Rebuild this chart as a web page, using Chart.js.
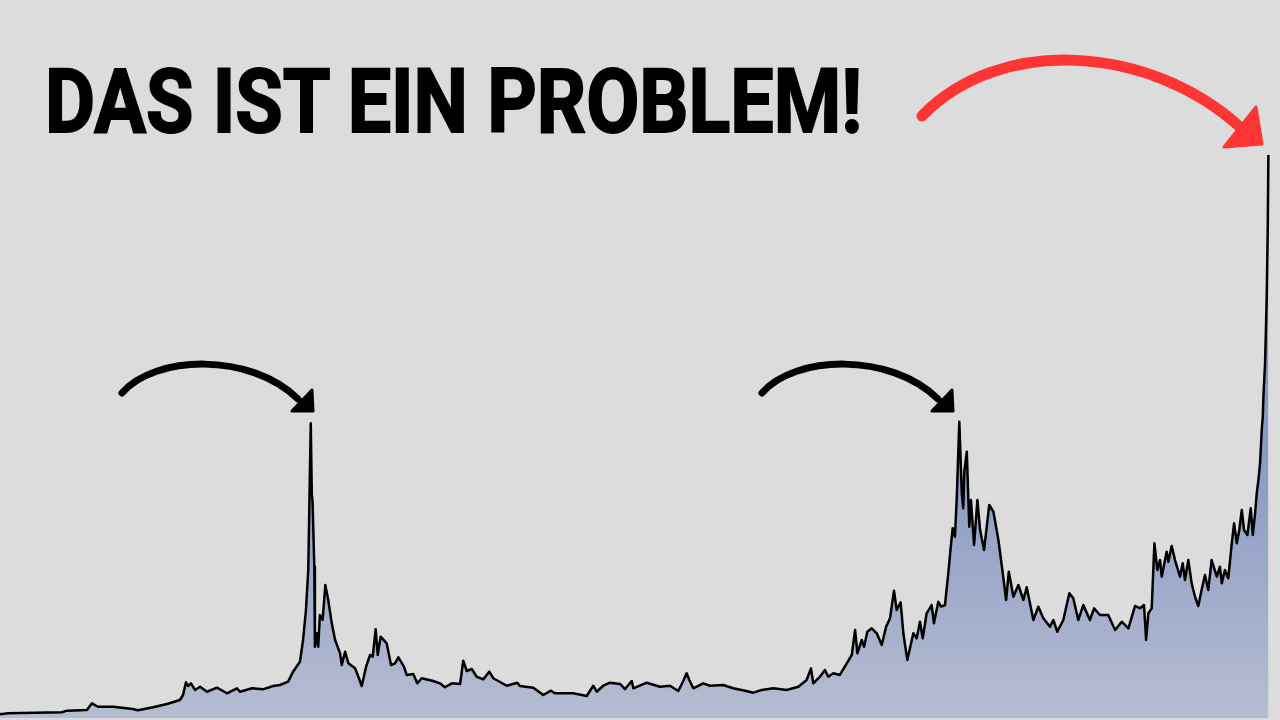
<!DOCTYPE html>
<html>
<head>
<meta charset="utf-8">
<script src="https://cdn.jsdelivr.net/npm/chart.js@4.4.1/dist/chart.umd.min.js"></script>
<style>
  html, body { margin: 0; padding: 0; background: #dcdcdc; overflow: hidden; }
  #wrap { position: relative; width: 1280px; height: 720px; }
  #c { position: absolute; left: 0; top: 0; }
  #title {
    position: absolute; left: 45px; top: 57px;
    font-family: Roboto, "Liberation Sans", sans-serif; font-weight: 700;
    font-size: 89px; line-height: 89px; color: #000; white-space: nowrap;
    -webkit-text-stroke: 2px #000; transform-origin: 0 0;
  }
</style>
</head>
<body>
<div id="wrap">
  <canvas id="c" width="1280" height="720"></canvas>
  <div id="title">DAS IST EIN PROBLEM!</div>
</div>
<script>
// Decimal year of each sample
const years = [
  1965.00,1965.38,1967.98,1968.22,1969.18,1969.42,1969.71,1970.43,1971.39,1971.63,
  1972.36,1973.03,1973.65,1973.80,1973.94,1974.04,1974.18,1974.38,1974.62,1974.95,
  1975.43,1975.91,1976.39,1976.54,1977.12,1977.64,1978.13,1978.46,1978.85,1979.09,
  1979.42,1979.57,1979.71,1979.82,1979.94,1979.99,1980.03,1980.11,1980.14,1980.25,
  1980.30,1980.38,1980.51,1980.64,1980.78,1980.95,1981.11,1981.35,1981.43,1981.59,
  1981.75,1982.07,1982.23,1982.39,1982.60,1982.79,1982.92,1983.06,1983.16,1983.30,
  1983.59,1983.80,1983.99,1984.15,1984.42,1984.55,1984.87,1985.06,1985.27,1985.83,
  1986.15,1986.39,1986.72,1987.12,1987.27,1987.44,1987.68,1987.92,1988.24,1988.52,
  1988.72,1989.36,1989.87,1990.00,1990.64,1991.12,1991.49,1991.68,1992.56,1993.21,
  1993.52,1993.69,1994.00,1994.33,1994.81,1995.05,1995.37,1995.45,1996.09,1996.73,
  1997.21,1997.61,1997.85,1998.01,1998.14,1998.33,1998.81,1999.13,1999.77,2000.25,
  2000.82,2001.22,2001.62,2002.18,2002.82,2003.38,2003.78,2003.99,2004.10,2004.42,
  2004.66,2004.82,2005.06,2005.38,2005.71,2005.95,2006.11,2006.22,2006.43,2006.54,
  2006.70,2006.91,2007.15,2007.39,2007.60,2007.79,2007.98,2008.11,2008.30,2008.43,
  2008.62,2008.91,2009.07,2009.23,2009.36,2009.55,2009.79,2009.90,2010.11,2010.24,
  2010.43,2010.59,2010.71,2010.80,2010.91,2011.00,2011.12,2011.24,2011.31,2011.36,
  2011.48,2011.60,2011.68,2011.83,2011.99,2012.12,2012.31,2012.56,2012.76,2013.00,
  2013.21,2013.37,2013.50,2013.72,2013.96,2014.20,2014.36,2014.68,2014.92,2015.16,
  2015.48,2015.64,2015.83,2016.12,2016.41,2016.60,2016.84,2017.08,2017.40,2017.60,
  2017.88,2018.28,2018.61,2018.93,2019.25,2019.57,2019.81,2020.00,2020.10,2020.21,
  2020.37,2020.50,2020.64,2020.77,2020.85,2021.09,2021.17,2021.33,2021.49,2021.73,
  2021.86,2021.97,2022.13,2022.29,2022.45,2022.61,2022.77,2022.93,2023.09,2023.25,
  2023.50,2023.65,2023.74,2023.89,2024.05,2024.22,2024.33,2024.46,2024.58,2024.70,
  2024.81,2024.97,2025.13,2025.23,2025.34,2025.42,2025.50,2025.58,2025.66,2025.71,
  2025.74,2025.82,2025.90,2025.95,2025.98
];
// Price (USD) of each sample
const prices = [
  0.62,0.78,0.95,1.22,1.33,2.45,1.88,1.88,1.50,1.28,
  1.78,2.33,3.00,3.83,5.95,5.33,5.78,4.67,5.22,4.38,
  5.05,4.12,4.95,4.38,4.95,4.78,5.33,5.50,6.05,7.72,
  9.38,13.0,18.0,24.67,49.12,37.45,35.83,25.22,11.88,14.12,
  11.88,17.17,16.33,22.17,19.67,15.78,13.0,10.78,8.83,11.05,
  9.12,8.28,6.88,5.33,8.55,10.5,10.22,14.78,10.5,13.55,
  12.45,8.83,9.12,10.12,8.55,7.17,7.33,5.78,6.62,6.17,
  5.78,5.12,5.78,5.67,9.55,7.83,8.17,6.88,6.45,7.72,
  6.62,5.38,5.88,5.33,5.05,3.83,4.55,4.12,4.12,3.67,
  5.38,4.38,5.38,5.88,5.67,4.83,6.17,4.95,5.88,5.22,
  5.38,4.50,6.17,7.45,6.33,4.95,5.78,5.38,5.50,4.95,
  4.55,4.22,4.67,4.95,4.67,5.22,6.33,8.28,5.78,6.88,
  8.00,6.88,7.45,7.17,9.12,10.5,14.67,10.78,13.0,11.88,
  14.38,14.95,14.12,12.17,15.22,16.62,21.22,18.0,19.28,14.12,
  9.67,14.12,13.28,16.05,13.28,17.45,18.83,15.78,19.38,18.55,
  18.83,24.12,28.55,31.62,30.22,36.88,49.38,37.45,34.95,41.05,
  44.38,31.88,36.33,28.83,36.33,31.33,28.0,35.5,34.38,29.67,
  24.12,19.67,24.38,20.22,22.17,19.67,21.78,16.33,18.55,16.62,
  15.22,16.33,14.38,16.33,20.78,19.95,16.33,18.83,16.33,18.28,
  17.17,17.17,14.67,16.05,14.95,18.67,18.28,18.83,13.0,17.45,
  18.28,29.12,24.67,26.33,23.55,27.72,26.05,28.67,26.33,23.55,
  25.78,23.0,26.33,22.45,20.22,18.67,21.33,23.83,21.33,26.33,
  23.55,25.22,22.45,24.67,23.28,29.12,32.45,29.12,31.33,34.67,
  31.33,30.5,34.95,30.5,34.12,37.45,39.67,42.45,48.0,50.22,
  53.55,59.12,70.22,81.88,93.83
];

const points = years.map((x, i) => ({ x: x, y: prices[i] }));

const arrows = {
  id: 'arrows',
  afterDraw(chart) {
    const ctx = chart.ctx;
    function arrow(p0, p1, p2, p3, head, color, width) {
      ctx.save();
      ctx.strokeStyle = color; ctx.fillStyle = color;
      ctx.lineWidth = width; ctx.lineCap = 'round'; ctx.lineJoin = 'round';
      ctx.beginPath();
      ctx.moveTo(p0[0], p0[1]);
      ctx.bezierCurveTo(p1[0], p1[1], p2[0], p2[1], p3[0], p3[1]);
      ctx.stroke();
      ctx.beginPath();
      ctx.moveTo(head[0][0], head[0][1]);
      ctx.lineTo(head[1][0], head[1][1]);
      ctx.lineTo(head[2][0], head[2][1]);
      ctx.closePath();
      ctx.lineWidth = 3;
      ctx.fill(); ctx.stroke();
      ctx.restore();
    }
    arrow([922,116],[1000,35],[1150,45],[1240,127],
          [[1256,107],[1262,144],[1224,147]], '#fe3535', 11);
    arrow([122,393],[155,355],[250,352],[298,399],
          [[312,390],[313,411],[292,411]], '#000000', 7);
    arrow([762,393],[795,355],[890,352],[938,399],
          [[952,390],[953,411],[932,411]], '#000000', 7);
  }
};

const ctx = document.getElementById('c').getContext('2d');
new Chart(ctx, {
  type: 'line',
  data: {
    datasets: [{
      data: points,
      borderColor: '#000000',
      borderWidth: 2.5,
      borderJoinStyle: 'round',
      pointRadius: 0,
      tension: 0,
      fill: 'origin',
      backgroundColor: (context) => {
        const ca = context.chart.chartArea;
        if (!ca) return '#a8b1cb';
        const g = context.chart.ctx.createLinearGradient(0, 150, 0, 718);
        g.addColorStop(0, '#7a8bc0');
        g.addColorStop(0.58, '#8e9cc6');
        g.addColorStop(1, '#b6bdd0');
        return g;
      }
    }]
  },
  options: {
    responsive: false,
    animation: false,
    layout: { padding: 0 },
    plugins: { legend: { display: false }, tooltip: { enabled: false } },
    scales: {
      x: { type: 'linear', min: 1965, max: 2026.538, display: false },
      y: { min: -0.333, max: 119.667, display: false }
    }
  },
  plugins: [arrows]
});

const t = document.getElementById('title');
const w = t.getBoundingClientRect().width;
t.style.transform = 'scaleX(' + (817 / w) + ')';
</script>
</body>
</html>
